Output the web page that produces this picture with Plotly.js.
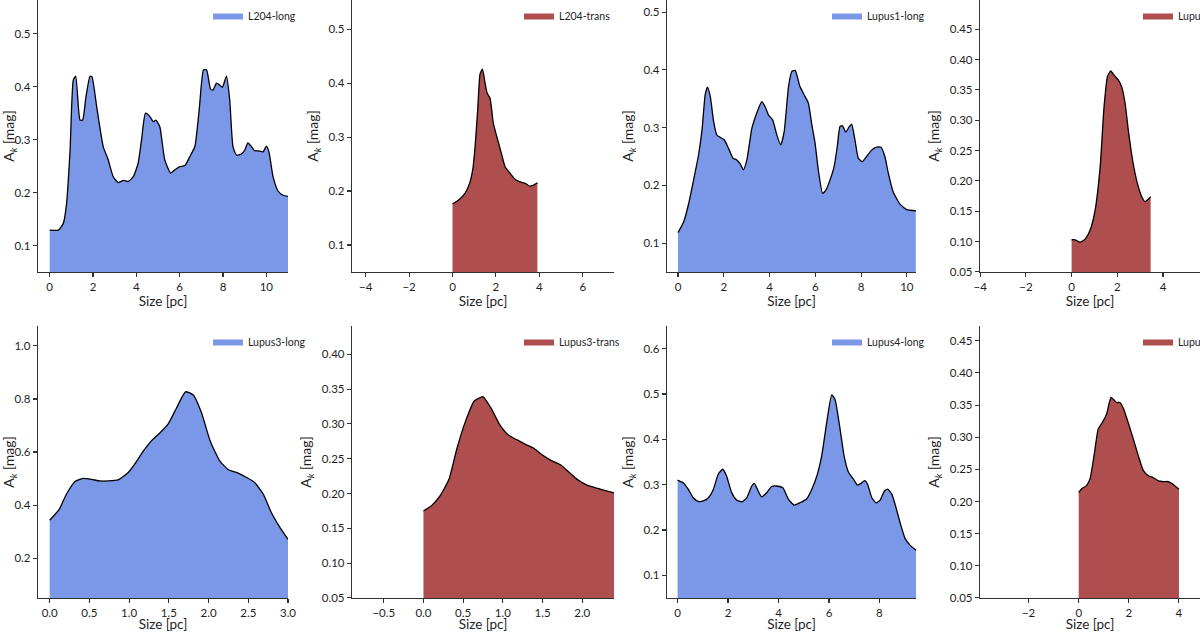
<!DOCTYPE html>
<html>
<head>
<meta charset="utf-8">
<script src="https://cdn.plot.ly/plotly-3.0.1.min.js"></script>
<style>
  html, body { margin: 0; padding: 0; background: #fff; overflow: hidden; }
  #graph { width: 1200px; height: 632px; }
</style>
</head>
<body>
<div id="graph"></div>
<script>
// ---- data (size in pc, A_k in mag) ----
var l204LongX = [0, 0.4, 0.63, 0.78, 0.94, 1.09, 1.2, 1.4, 1.52, 1.67, 1.86, 1.95, 2.17, 2.47, 2.7, 2.93, 3.16, 3.4, 3.63, 3.86, 4.08, 4.24, 4.42, 4.62, 4.78, 4.9, 5.08, 5.31, 5.58, 5.78, 6.0, 6.24, 6.47, 6.7, 6.9, 7.1, 7.24, 7.43, 7.54, 7.7, 7.85, 7.97, 8.16, 8.31, 8.46, 8.62, 8.85, 9.0, 9.15, 9.31, 9.46, 9.62, 9.85, 10.0, 10.12, 10.31, 10.54, 10.77, 11.0];
var l204LongY = [0.129, 0.129, 0.142, 0.18, 0.28, 0.413, 0.42, 0.337, 0.337, 0.38, 0.42, 0.419, 0.362, 0.287, 0.262, 0.23, 0.219, 0.223, 0.221, 0.23, 0.255, 0.30, 0.35, 0.344, 0.334, 0.337, 0.325, 0.262, 0.237, 0.243, 0.249, 0.251, 0.268, 0.287, 0.356, 0.432, 0.432, 0.395, 0.394, 0.407, 0.403, 0.399, 0.42, 0.375, 0.287, 0.271, 0.273, 0.28, 0.294, 0.287, 0.279, 0.279, 0.277, 0.288, 0.277, 0.23, 0.203, 0.195, 0.193];

var l204TransX = [0, 0.27, 0.5, 0.65, 0.81, 0.93, 1.04, 1.16, 1.27, 1.38, 1.5, 1.6, 1.73, 1.88, 2.08, 2.27, 2.42, 2.65, 2.88, 3.11, 3.35, 3.57, 3.73, 3.91];
var l204TransY = [0.176, 0.183, 0.192, 0.201, 0.217, 0.239, 0.282, 0.35, 0.417, 0.426, 0.4, 0.381, 0.372, 0.326, 0.295, 0.267, 0.245, 0.233, 0.222, 0.217, 0.214, 0.209, 0.211, 0.215];

var lupus1LongX = [0, 0.25, 0.47, 0.68, 0.9, 1.05, 1.19, 1.29, 1.41, 1.56, 1.7, 1.85, 2.02, 2.21, 2.4, 2.57, 2.72, 2.86, 3.01, 3.23, 3.44, 3.66, 3.81, 3.95, 4.14, 4.32, 4.49, 4.64, 4.83, 4.97, 5.12, 5.33, 5.51, 5.7, 5.84, 5.99, 6.13, 6.32, 6.47, 6.64, 6.82, 6.96, 7.08, 7.19, 7.33, 7.49, 7.59, 7.73, 7.88, 8.05, 8.24, 8.46, 8.68, 8.87, 9.04, 9.19, 9.4, 9.69, 9.99, 10.39];
var lupus1LongY = [0.118, 0.137, 0.169, 0.209, 0.253, 0.296, 0.357, 0.37, 0.354, 0.31, 0.287, 0.283, 0.279, 0.264, 0.247, 0.244, 0.237, 0.227, 0.244, 0.299, 0.325, 0.345, 0.336, 0.322, 0.313, 0.287, 0.27, 0.293, 0.371, 0.397, 0.399, 0.371, 0.357, 0.342, 0.307, 0.273, 0.227, 0.186, 0.192, 0.209, 0.232, 0.267, 0.302, 0.303, 0.292, 0.302, 0.306, 0.279, 0.247, 0.241, 0.25, 0.261, 0.266, 0.266, 0.25, 0.221, 0.189, 0.168, 0.158, 0.156];

var lupus1TransX = [0, 0.15, 0.37, 0.59, 0.81, 1.03, 1.25, 1.42, 1.57, 1.71, 1.86, 2.05, 2.19, 2.34, 2.48, 2.67, 2.88, 3.07, 3.21, 3.36, 3.46];
var lupus1TransY = [0.103, 0.103, 0.099, 0.104, 0.119, 0.152, 0.223, 0.322, 0.372, 0.381, 0.374, 0.366, 0.355, 0.328, 0.284, 0.234, 0.196, 0.174, 0.166, 0.17, 0.174];

var lupus3LongX = [0, 0.12, 0.21, 0.32, 0.42, 0.53, 0.63, 0.74, 0.86, 0.99, 1.07, 1.18, 1.28, 1.39, 1.49, 1.6, 1.71, 1.81, 1.91, 2.02, 2.14, 2.25, 2.35, 2.48, 2.58, 2.69, 2.79, 2.9, 3.0];
var lupus3LongY = [0.343, 0.384, 0.441, 0.489, 0.501, 0.497, 0.491, 0.491, 0.495, 0.523, 0.554, 0.604, 0.642, 0.673, 0.705, 0.768, 0.827, 0.814, 0.749, 0.642, 0.567, 0.533, 0.523, 0.504, 0.485, 0.441, 0.372, 0.315, 0.271];

var lupus3TransX = [0, 0.105, 0.21, 0.32, 0.42, 0.53, 0.64, 0.75, 0.85, 0.96, 1.07, 1.18, 1.28, 1.39, 1.49, 1.6, 1.73, 1.83, 1.94, 2.06, 2.17, 2.27, 2.4];
var lupus3TransY = [0.175, 0.183, 0.197, 0.22, 0.264, 0.304, 0.333, 0.339, 0.323, 0.299, 0.284, 0.277, 0.271, 0.265, 0.256, 0.248, 0.241, 0.231, 0.22, 0.212, 0.208, 0.205, 0.201];

var lupus4LongX = [0, 0.22, 0.42, 0.62, 0.82, 1.02, 1.22, 1.42, 1.61, 1.79, 1.94, 2.14, 2.34, 2.54, 2.74, 2.94, 3.04, 3.16, 3.33, 3.53, 3.73, 3.93, 4.17, 4.39, 4.62, 4.85, 5.12, 5.32, 5.52, 5.71, 5.91, 6.11, 6.24, 6.42, 6.6, 6.77, 6.97, 7.13, 7.3, 7.41, 7.53, 7.7, 7.87, 8.03, 8.2, 8.33, 8.49, 8.66, 8.82, 9.02, 9.22, 9.46];
var lupus4LongY = [0.31, 0.304, 0.29, 0.271, 0.263, 0.264, 0.271, 0.29, 0.323, 0.334, 0.319, 0.283, 0.266, 0.262, 0.271, 0.297, 0.303, 0.29, 0.273, 0.282, 0.296, 0.297, 0.293, 0.268, 0.255, 0.26, 0.269, 0.29, 0.319, 0.363, 0.437, 0.498, 0.488, 0.43, 0.363, 0.328, 0.312, 0.299, 0.304, 0.309, 0.301, 0.271, 0.26, 0.266, 0.286, 0.29, 0.279, 0.249, 0.216, 0.181, 0.166, 0.155];

var lupus4TransX = [0, 0.12, 0.29, 0.45, 0.61, 0.78, 0.96, 1.12, 1.21, 1.29, 1.38, 1.51, 1.65, 1.78, 1.98, 2.18, 2.38, 2.58, 2.78, 2.98, 3.18, 3.38, 3.57, 3.75, 4.0];
var lupus4TransY = [0.214, 0.22, 0.224, 0.235, 0.271, 0.313, 0.324, 0.337, 0.352, 0.362, 0.359, 0.354, 0.354, 0.345, 0.322, 0.297, 0.271, 0.248, 0.24, 0.237, 0.232, 0.231, 0.231, 0.227, 0.219];

var panelNames = ['L204-long', 'L204-trans', 'Lupus1-long', 'Lupus1-trans',
                  'Lupus3-long', 'Lupus3-trans', 'Lupus4-long', 'Lupus4-trans'];
var panelX = [l204LongX, l204TransX, lupus1LongX, lupus1TransX,
              lupus3LongX, lupus3TransX, lupus4LongX, lupus4TransX];
var panelY = [l204LongY, l204TransY, lupus1LongY, lupus1TransY,
              lupus3LongY, lupus3TransY, lupus4LongY, lupus4TransY];

var BLUE = '#7a97e8';
var RED = '#ae4e4e';
var FONT = 'Lato, "Open Sans", sans-serif';
var INK = '#1e1e1e';

// layout geometry (pixels) and axis ranges per panel
var W = 1200, H = 632;
var colPx = [[38, 288], [352, 614], [667, 916], [980, 1200]];
var rowPx = [[0, 272], [326, 598]];
// left edge of each legend patch, in pixels
var legendPx = [216, 527, 835, 1146];
var xRanges = [[-0.54, 11.0], [-4.63, 7.44], [-0.48, 10.4], [-4.01, 5.62],
               [-0.147, 3.0], [-0.90, 2.40], [-0.42, 9.45], [-3.94, 4.84]];
var yRanges = [[0.0499, 0.564], [0.0499, 0.554], [0.0499, 0.521], [0.0499, 0.498],
               [0.0499, 1.075], [0.0499, 0.4407], [0.0499, 0.65], [0.0499, 0.473]];
var xTicks = [[2, 'd'], [2, 'd'], [2, 'd'], [2, 'd'], [0.5, '.1f'], [0.5, '.1f'], [2, 'd'], [2, 'd']];
var yTicks = [[0.1, '.1f'], [0.1, '.1f'], [0.1, '.1f'], [0.05, '.2f'],
              [0.2, '.1f'], [0.05, '.2f'], [0.1, '.1f'], [0.05, '.2f']];

function axisBase() {
    return {
        showline: true, linecolor: '#333', linewidth: 1.2,
        ticks: 'outside', ticklen: 4, tickwidth: 1.1, tickcolor: '#333',
        showgrid: false, zeroline: false, automargin: false,
        tickfont: {family: FONT, size: 11.5, color: INK},
        fixedrange: true
    };
}

var data = [];
var layout = {
    width: W, height: H,
    margin: {l: 0, r: 0, t: 0, b: 0, autoexpand: false},
    paper_bgcolor: '#fff', plot_bgcolor: 'rgba(0,0,0,0)',
    font: {family: FONT, color: INK},
    showlegend: true
};

for (var i = 0; i < 8; i++) {
    var n = i + 1;
    var sfx = n === 1 ? '' : String(n);
    var col = colPx[i % 4], row = rowPx[Math.floor(i / 4)];
    var color = (i % 2 === 0) ? BLUE : RED;
    var legName = 'legend' + sfx;

    data.push({
        x: panelX[i], y: panelY[i], xaxis: 'x' + sfx, yaxis: 'y' + sfx,
        type: 'scatter', mode: 'lines', fill: 'tozeroy', fillcolor: color,
        line: {width: 0, color: color, shape: 'spline', smoothing: 0.5},
        name: panelNames[i], legend: legName, hoverinfo: 'skip'
    });
    data.push({
        x: panelX[i], y: panelY[i], xaxis: 'x' + sfx, yaxis: 'y' + sfx,
        type: 'scatter', mode: 'lines',
        line: {width: 1.3, color: '#000', shape: 'spline', smoothing: 0.5},
        showlegend: false, hoverinfo: 'skip'
    });

    var xa = axisBase();
    xa.domain = [col[0] / W, col[1] / W];
    xa.anchor = 'y' + sfx;
    xa.range = xRanges[i];
    xa.dtick = xTicks[i][0];
    xa.tick0 = 0;
    xa.tickformat = xTicks[i][1];
    xa.title = {text: 'Size [pc]', font: {family: FONT, size: 13.5, color: INK}, standoff: 3};
    layout['xaxis' + sfx] = xa;

    var ya = axisBase();
    ya.domain = [1 - row[1] / H, 1 - row[0] / H];
    ya.anchor = 'x' + sfx;
    ya.range = yRanges[i];
    ya.dtick = yTicks[i][0];
    ya.tick0 = 0;
    ya.tickformat = yTicks[i][1];
    ya.title = {text: 'A<sub><i>k</i></sub> [mag]', font: {family: FONT, size: 14, color: INK}, standoff: 6};
    layout['yaxis' + sfx] = ya;

    layout[legName] = {
        x: (legendPx[i % 4] - 8) / W, xanchor: 'left',
        y: 1 - (row[0] + 1) / H, yanchor: 'top',
        bgcolor: 'rgba(0,0,0,0)', borderwidth: 0,
        font: {family: FONT, size: 10.5, color: INK}
    };
}

Plotly.newPlot('graph', data, layout, {staticPlot: true});
</script>
</body>
</html>
